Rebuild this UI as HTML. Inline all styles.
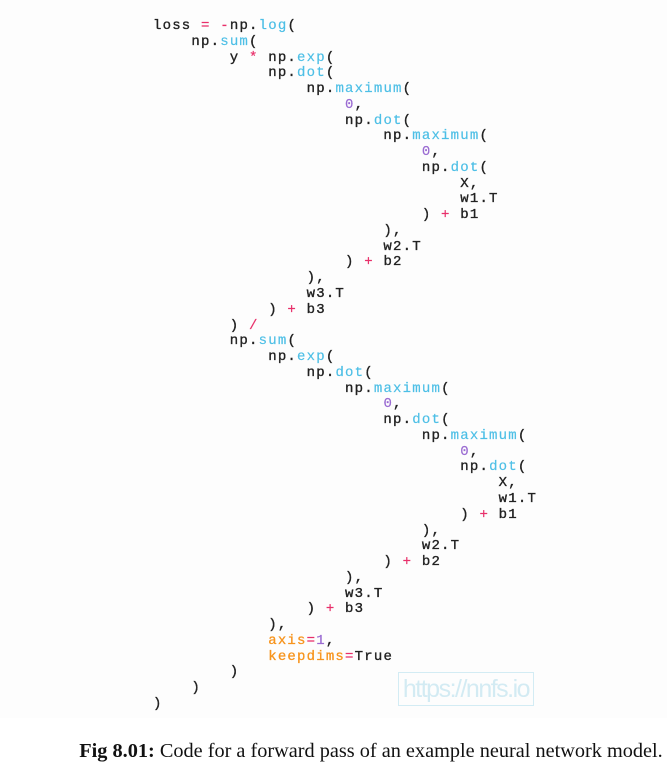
<!DOCTYPE html>
<html><head><meta charset="utf-8"><style>
html,body{margin:0;padding:0;background:#fff;width:667px;height:773px;overflow:hidden;position:relative}
#code-bg{position:absolute;left:0;top:0;width:667px;height:718px;background:#fdfdfd}
pre{position:absolute;left:153px;top:19px;margin:0;font-family:"Liberation Mono",monospace;font-size:14px;letter-spacing:1.2px;line-height:15.77px;color:#222;font-weight:normal;-webkit-text-stroke:0.35px #222}
.f{color:#4dbfe6;-webkit-text-stroke:0.2px #4dbfe6}.o{color:#e8306a;-webkit-text-stroke:0.2px #e8306a}.n{color:#9a6bd2;-webkit-text-stroke:0.2px #9a6bd2}.k{color:#f7941d;-webkit-text-stroke:0.3px #f7941d}
#wm{position:absolute;left:398px;top:672px;width:134px;height:32px;border:1.5px solid #d3ecf4;color:#d3ebf3;font-family:"Liberation Sans",sans-serif;font-size:25px;line-height:32px;text-align:center;font-weight:300;letter-spacing:-1.5px}
#cap{position:absolute;left:0;width:667px;top:740px;text-align:center;font-family:"Liberation Serif",serif;font-size:20.3px;color:#111;padding-left:75px;box-sizing:border-box;white-space:nowrap}
</style></head><body>
<div id="code-bg"></div>
<pre>loss <span class="o">=</span> <span class="o">-</span>np.<span class="f">log</span>(
    np.<span class="f">sum</span>(
        y <span class="o">*</span> np.<span class="f">exp</span>(
            np.<span class="f">dot</span>(
                np.<span class="f">maximum</span>(
                    <span class="n">0</span>,
                    np.<span class="f">dot</span>(
                        np.<span class="f">maximum</span>(
                            <span class="n">0</span>,
                            np.<span class="f">dot</span>(
                                X,
                                w1.T
                            ) <span class="o">+</span> b1
                        ),
                        w2.T
                    ) <span class="o">+</span> b2
                ),
                w3.T
            ) <span class="o">+</span> b3
        ) <span class="o">/</span>
        np.<span class="f">sum</span>(
            np.<span class="f">exp</span>(
                np.<span class="f">dot</span>(
                    np.<span class="f">maximum</span>(
                        <span class="n">0</span>,
                        np.<span class="f">dot</span>(
                            np.<span class="f">maximum</span>(
                                <span class="n">0</span>,
                                np.<span class="f">dot</span>(
                                    X,
                                    w1.T
                                ) <span class="o">+</span> b1
                            ),
                            w2.T
                        ) <span class="o">+</span> b2
                    ),
                    w3.T
                ) <span class="o">+</span> b3
            ),
            <span class="k">axis</span><span class="o">=</span><span class="n">1</span>,
            <span class="k">keepdims</span><span class="o">=</span>True
        )
    )
)</pre>
<div id="wm">https://nnfs.io</div>
<div id="cap"><b>Fig 8.01:</b> Code for a forward pass of an example neural network model.</div>
</body></html>
